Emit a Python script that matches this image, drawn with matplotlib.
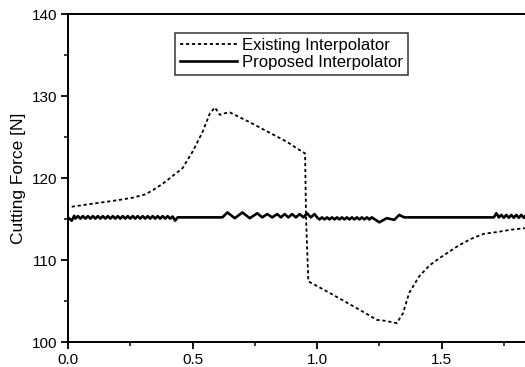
import matplotlib.pyplot as plt
from matplotlib.ticker import MultipleLocator

plt.rcParams['font.family'] = ['Liberation Sans', 'DejaVu Sans']

# Existing interpolator (dotted curve)
exist_t = [0.015, 0.06, 0.13, 0.20, 0.26, 0.31, 0.34, 0.38, 0.41, 0.46, 0.50, 0.54,
           0.57, 0.59, 0.61, 0.63, 0.65, 0.69, 0.73, 0.78, 0.83, 0.88, 0.92, 0.952,
           0.956, 0.965, 1.05, 1.12, 1.19, 1.24, 1.27, 1.32, 1.345, 1.37, 1.41,
           1.45, 1.49, 1.53, 1.57, 1.62, 1.67, 1.72, 1.78, 1.84]
exist_f = [116.5, 116.7, 117.0, 117.3, 117.6, 118.0, 118.5, 119.3, 120.0, 121.2, 123.2, 125.6,
           127.9, 128.6, 127.7, 127.9, 128.0, 127.4, 126.8, 126.0, 125.2, 124.4, 123.6, 123.0,
           115.0, 107.4, 106.0, 104.8, 103.6, 102.7, 102.6, 102.3, 103.5, 106.0, 108.0,
           109.3, 110.2, 111.0, 111.8, 112.6, 113.2, 113.4, 113.7, 113.9]

# Proposed interpolator (solid line with small ripple)
prop_t = [0.00, 0.015, 0.025,
          0.03, 0.04, 0.05, 0.06, 0.07, 0.08, 0.09, 0.10, 0.11, 0.12,
          0.13, 0.14, 0.15, 0.16, 0.17, 0.18, 0.19, 0.20, 0.21, 0.22,
          0.23, 0.24, 0.25, 0.26, 0.27, 0.28, 0.29, 0.30, 0.31, 0.32,
          0.33, 0.34, 0.35, 0.36, 0.37, 0.38, 0.39, 0.40, 0.41, 0.42,
          0.43, 0.44, 0.62,
          0.64, 0.67, 0.70, 0.73, 0.76, 0.78, 0.80, 0.82, 0.84, 0.855,
          0.87, 0.885, 0.90, 0.915, 0.93, 0.945, 0.96, 0.975, 0.99, 1.00,
          1.01, 1.02, 1.03, 1.04, 1.05, 1.06, 1.07, 1.08, 1.09, 1.10,
          1.11, 1.12, 1.13, 1.14, 1.15, 1.16, 1.17, 1.18, 1.19, 1.20,
          1.21, 1.22, 1.25, 1.28, 1.31, 1.33, 1.35, 1.37,
          1.71, 1.72, 1.73, 1.74, 1.75, 1.76, 1.77, 1.78, 1.79, 1.80,
          1.81, 1.82, 1.83, 1.84]
prop_f = [115.2, 114.8, 115.4,
          115.05, 115.35, 115.05, 115.35, 115.05, 115.35, 115.05, 115.35, 115.05, 115.35,
          115.05, 115.35, 115.05, 115.35, 115.05, 115.35, 115.05, 115.35, 115.05, 115.35,
          115.05, 115.35, 115.05, 115.35, 115.05, 115.35, 115.05, 115.35, 115.05, 115.35,
          115.05, 115.35, 115.05, 115.35, 115.05, 115.35, 115.05, 115.35, 115.05, 115.3,
          114.8, 115.2, 115.2,
          115.8, 115.1, 115.8, 115.1, 115.7, 115.2, 115.6, 115.2, 115.6, 115.2,
          115.6, 115.2, 115.6, 115.2, 115.6, 115.2, 115.7, 115.2, 115.6, 115.2,
          114.95, 115.2, 114.95, 115.2, 114.95, 115.2, 114.95, 115.2, 114.95, 115.2,
          114.95, 115.2, 114.95, 115.2, 114.95, 115.2, 114.95, 115.2, 114.95, 115.2,
          114.95, 115.2, 114.6, 115.1, 114.9, 115.5, 115.2, 115.2,
          115.2, 115.7, 115.2, 115.5, 115.15, 115.5, 115.15, 115.5, 115.15, 115.5,
          115.15, 115.5, 115.15, 115.5]

fig = plt.figure(figsize=(5.25, 3.67), dpi=100)
ax = fig.add_axes([0.1295, 0.0681, 0.8705, 0.8937])

ax.plot(exist_t, exist_f, color='black', linewidth=1.3, linestyle=(0, (1.8, 1.5)),
        label='Existing Interpolator')
ax.plot(prop_t, prop_f, color='black', linewidth=1.9, label='Proposed Interpolator')

ax.set_xlim(0, 1.835)
ax.set_ylim(100, 140)
ax.xaxis.set_major_locator(MultipleLocator(0.5))
ax.xaxis.set_minor_locator(MultipleLocator(0.25))
ax.yaxis.set_major_locator(MultipleLocator(10))
ax.yaxis.set_minor_locator(MultipleLocator(5))
ax.xaxis.set_major_formatter(plt.FormatStrFormatter('%.1f'))
ax.tick_params(which='major', direction='out', length=5, width=1.3, labelsize=11, pad=3)
ax.tick_params(which='minor', direction='out', length=3, width=1.1)
ax.tick_params(top=False, right=False)

ax.spines['right'].set_visible(False)
for s in ['left', 'bottom', 'top']:
    ax.spines[s].set_linewidth(1.4)

ax.set_ylabel('Cutting Force [N]', fontsize=12.5, labelpad=4)

leg = ax.legend(loc='upper left', bbox_to_anchor=(0.234, 0.942), fontsize=12,
                frameon=True, fancybox=False, handlelength=3.4, handletextpad=0.3,
                borderpad=0.3, labelspacing=0.1, borderaxespad=0)
leg.get_frame().set_edgecolor('black')
leg.get_frame().set_linewidth(1.1)

fig.savefig('out.png', dpi=100)
